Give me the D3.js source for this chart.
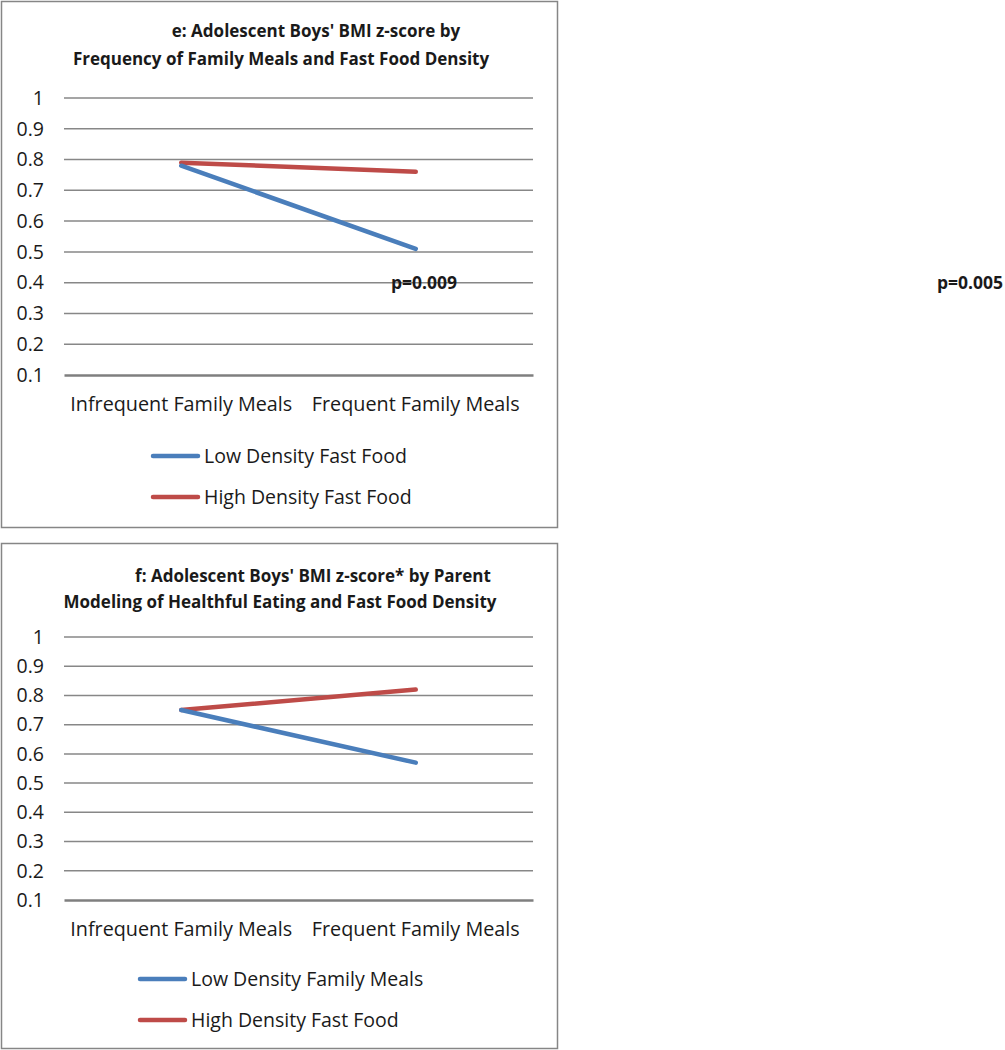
<!DOCTYPE html>
<html>
<head>
<meta charset="utf-8">
<script src="https://cdn.jsdelivr.net/npm/d3@7"></script>
<style>
  body { margin: 0; background: #fff; }
  svg text { font-family: "Open Sans", "Noto Sans", sans-serif; fill: #1a1a1a; }
</style>
</head>
<body>
<svg id="chart"></svg>
<script>
// categories along the x axis (same for both panels)
var categories = ["Infrequent Family Meals", "Frequent Family Meals"];
var yTicks = [0.1, 0.2, 0.3, 0.4, 0.5, 0.6, 0.7, 0.8, 0.9, 1];

// panel e
var titleE = ["e: Adolescent Boys' BMI z-score by", "Frequency  of Family Meals and Fast Food Density"];
var lowE = [0.78, 0.51];
var highE = [0.79, 0.76];
var seriesNamesE = ["Low Density Fast Food", "High Density Fast Food"];

// panel f
var titleF = ["f: Adolescent Boys' BMI z-score* by Parent", "Modeling of Healthful Eating and Fast Food Density"];
var lowF = [0.75, 0.57];
var highF = [0.75, 0.82];
var seriesNamesF = ["Low Density Family Meals", "High Density Fast Food"];

var pLabels = ["p=0.009", "p=0.005"];

var w = 1005, h = 1050;
var blue = "#4a7ebb", red = "#be4b48";

var svg = d3.select("#chart")
    .attr("width", w)
    .attr("height", h);

function drawPanel(cfg) {
    var g = svg.append("g").attr("transform", "translate(" + cfg.x + "," + cfg.y + ")");

    // frame
    g.append("rect")
        .attr("x", 0.5).attr("y", 0.5)
        .attr("width", cfg.w).attr("height", cfg.h)
        .attr("fill", "#fff")
        .attr("stroke", "#868686")
        .attr("stroke-width", 1.5);

    // title
    g.selectAll(".title")
        .data(cfg.title)
        .enter().append("text")
        .attr("class", "title")
        .attr("x", function(d, i) { return cfg.titleX[i]; })
        .attr("y", function(d, i) { return cfg.titleY[i]; })
        .attr("text-anchor", "middle")
        .style("font-weight", "bold")
        .style("font-size", "17px")
        .text(function(d) { return d; });

    var x = d3.scaleBand().domain(categories).range([cfg.plotLeft, cfg.plotRight]);
    var y = d3.scaleLinear().domain([0.1, 1]).range([cfg.plotBottom, cfg.plotTop]);

    // gridlines
    g.selectAll(".grid")
        .data(yTicks.slice(1))
        .enter().append("line")
        .attr("class", "grid")
        .attr("x1", cfg.plotLeft).attr("x2", cfg.plotRight)
        .attr("y1", function(d) { return y(d); })
        .attr("y2", function(d) { return y(d); })
        .attr("stroke", "#878787")
        .attr("stroke-width", 1.5);

    // y axis labels
    var yAxis = d3.axisLeft(y).tickValues(yTicks).tickSize(0).tickPadding(20)
        .tickFormat(function(d) { return d3.format("")(+d.toFixed(1)); });
    var ya = g.append("g").attr("transform", "translate(" + cfg.plotLeft + ",0)").call(yAxis);
    ya.select(".domain").remove();
    ya.selectAll("text").style("font-size", "19.5px").style("font-family", "\"Open Sans\", sans-serif").attr("fill", "#1a1a1a");

    // x axis (the 0.1 baseline)
    var xAxis = d3.axisBottom(x).tickSize(0).tickPadding(22);
    var xa = g.append("g").attr("transform", "translate(0," + y(0.1) + ")").call(xAxis);
    xa.select(".domain").attr("stroke", "#7f7f7f").attr("stroke-width", 2.5);
    xa.selectAll("text").style("font-size", "19.8px").style("font-family", "\"Open Sans\", sans-serif").attr("fill", "#1a1a1a");

    // series lines
    var line = d3.line()
        .x(function(d, i) { return x(categories[i]) + x.bandwidth() / 2; })
        .y(function(d) { return y(d); });

    var series = [
        { values: cfg.high, color: red },
        { values: cfg.low, color: blue }
    ];
    g.selectAll(".series")
        .data(series)
        .enter().append("path")
        .attr("class", "series")
        .attr("d", function(d) { return line(d.values); })
        .attr("fill", "none")
        .attr("stroke", function(d) { return d.color; })
        .attr("stroke-width", 4.5)
        .attr("stroke-linecap", "round");

    // legend
    var leg = g.selectAll(".legend")
        .data([{ name: cfg.names[0], color: blue }, { name: cfg.names[1], color: red }])
        .enter().append("g")
        .attr("class", "legend")
        .attr("transform", function(d, i) { return "translate(" + cfg.legendX + "," + cfg.legendY[i] + ")"; });
    leg.append("line")
        .attr("x1", 0).attr("x2", 45)
        .attr("stroke", function(d) { return d.color; })
        .attr("stroke-width", 4.5)
        .attr("stroke-linecap", "round");
    leg.append("text")
        .attr("x", 51).attr("y", 0)
        .attr("dy", "0.35em")
        .style("font-size", "19.5px")
        .text(function(d) { return d.name; });

    return { g: g, x: x, y: y };
}

var pe = drawPanel({
    x: 1, y: 1, w: 556, h: 526,
    title: titleE, titleX: [315, 280], titleY: [36, 64],
    plotLeft: 63, plotRight: 532, plotTop: 97, plotBottom: 374,
    low: lowE, high: highE, names: seriesNamesE,
    legendX: 152, legendY: [455, 496]
});

var pf = drawPanel({
    x: 1, y: 543, w: 556, h: 505,
    title: titleF, titleX: [312, 279], titleY: [39, 65],
    plotLeft: 63, plotRight: 532, plotTop: 94, plotBottom: 357,
    low: lowF, high: highF, names: seriesNamesF,
    legendX: 139, legendY: [436, 477]
});

// p-value annotations (drawn over the top panel and to the right of it)
svg.selectAll(".pval")
    .data(pLabels)
    .enter().append("text")
    .attr("class", "pval")
    .attr("x", function(d, i) { return i === 0 ? 424 : 970; })
    .attr("y", 1 + pe.y(0.4))
    .attr("dy", "0.35em")
    .attr("text-anchor", "middle")
    .style("font-weight", "bold")
    .style("font-size", "17.5px")
    .text(function(d) { return d; });
</script>
</body>
</html>
